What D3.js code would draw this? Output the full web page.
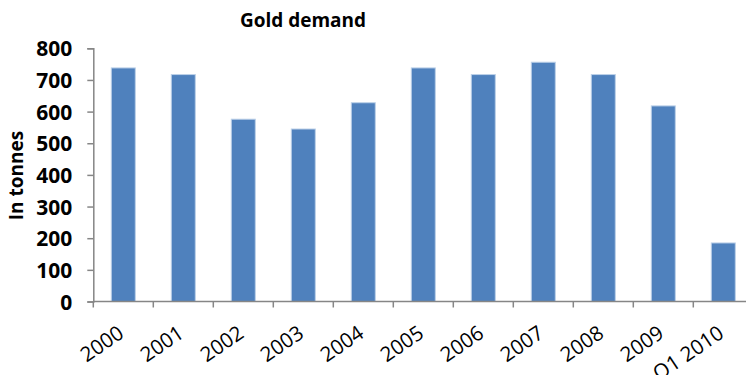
<!DOCTYPE html>
<html>
<head>
<meta charset="utf-8">
<script src="https://cdn.jsdelivr.net/npm/d3@7"></script>
<style>
  html, body { margin: 0; padding: 0; background: #fff; }
  svg { display: block; }
  text { font-family: "Open Sans", "DejaVu Sans", sans-serif; fill: #000; }
</style>
</head>
<body>
<svg id="chart" width="746" height="375"></svg>
<script>
const categories = ["2000","2001","2002","2003","2004","2005","2006","2007","2008","2009","Q1 2010"];
const demand = [738, 717, 576, 545, 628, 738, 717, 756, 717, 618, 185];
const yTicks = [0,100,200,300,400,500,600,700,800];
const chartTitle = "Gold demand";
const yTitle = "In tonnes";

const svg = d3.select("#chart");
const mLeft = 93.3, mRight = 753.3, mTop = 48.3, mBottom = 301.5;

const x = d3.scaleBand().domain(categories).range([mLeft, mRight]).paddingInner(0.6).paddingOuter(0.3);
const y = d3.scaleLinear().domain([0, 800]).range([mBottom, mTop]);
const gap = (x.step() - x.bandwidth()) / 2;

// bars
svg.append("g").selectAll("rect").data(categories).join("rect")
  .attr("x", d => x(d))
  .attr("width", x.bandwidth())
  .attr("y", (d, i) => y(demand[i]))
  .attr("height", (d, i) => y(0) - y(demand[i]))
  .attr("fill", "#4F81BD")
  .attr("stroke", "#BCD0E8")
  .attr("stroke-width", 1);

// y axis
const yAxis = svg.append("g").attr("transform", `translate(${mLeft},0)`)
  .call(d3.axisLeft(y).tickValues(yTicks).tickSize(6).tickPadding(15).tickFormat(d3.format("d")));
yAxis.select(".domain").attr("stroke", "#868686").attr("stroke-width", 1.5);
yAxis.selectAll(".tick line").attr("stroke", "#868686").attr("stroke-width", 1.5);
yAxis.selectAll(".tick text").attr("font-size", 21).attr("font-weight", "bold")
  .attr("font-family", "'Open Sans', sans-serif").attr("dy", "0.36em").attr("fill", "#000");

// x axis
const xAxis = svg.append("g").attr("transform", `translate(0,${mBottom})`);
xAxis.append("line").attr("x1", mLeft).attr("x2", mRight).attr("y1", 0).attr("y2", 0)
  .attr("stroke", "#868686").attr("stroke-width", 1.5);
xAxis.selectAll("line.tk").data(categories).join("line").attr("class", "tk")
  .attr("x1", d => x(d) - gap).attr("x2", d => x(d) - gap)
  .attr("y1", 0).attr("y2", 6).attr("stroke", "#868686").attr("stroke-width", 1.5);
xAxis.selectAll("text").data(categories).join("text")
  .attr("transform", d => `translate(${x(d) + x.bandwidth() / 2 + 2},35) rotate(-34)`)
  .attr("text-anchor", "end")
  .attr("font-size", 20.5)
  .text(d => d);

// titles
svg.append("text").attr("x", 303).attr("y", 27).attr("text-anchor", "middle")
  .attr("font-size", 19).attr("font-weight", "bold").text(chartTitle);
svg.append("text").attr("transform", "translate(23,175.5) rotate(-90)").attr("text-anchor", "middle")
  .attr("font-size", 19).attr("font-weight", "bold").text(yTitle);
</script>
</body>
</html>
